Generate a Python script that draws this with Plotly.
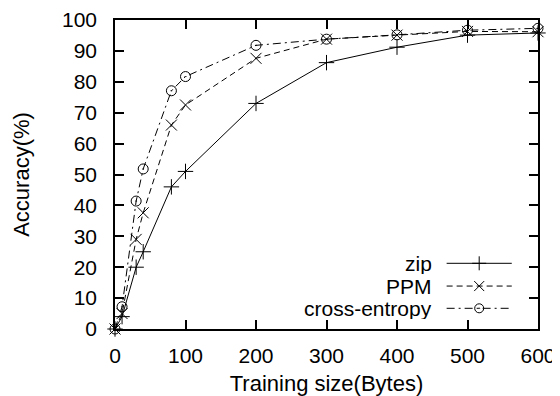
import plotly.graph_objects as go

training_size = [0, 10, 30, 40, 80, 100, 200, 300, 400, 500, 600]
zip_acc = [0, 4, 20, 25, 46, 51, 73, 86.2, 91.2, 95.1, 95.8]
ppm_acc = [0, 5, 29, 37.6, 66, 72.5, 87.6, 93.8, 95.1, 96.3, 96.2]
ce_acc = [0, 7.2, 41.4, 51.8, 77.1, 81.7, 91.8, 93.8, 95.2, 96.7, 97.3]

series_names = ["zip", "PPM", "cross-entropy"]
series_vals = [zip_acc, ppm_acc, ce_acc]
dashes = ["solid", "6px,4px", "8px,4px,2px,4px"]
symbols = ["cross-thin-open", "x-thin-open", "circle-open-dot"]
msizes = [11, 11, 10]

x_ticks = [0, 100, 200, 300, 400, 500, 600]
y_ticks = list(range(0, 101, 10))

FONT = "Liberation Sans, Arial, sans-serif"
FS_TICK = 21
FS_TITLE = 22
FS_LEG = 21

fig = go.Figure()
for name, vals, d, s, ms in zip(series_names, series_vals, dashes, symbols, msizes):
    fig.add_trace(go.Scatter(
        x=training_size, y=vals, name=name, mode="lines+markers",
        line=dict(color="black", width=1, dash=d),
        marker=dict(symbol=s, size=ms, color="black", line=dict(color="black", width=1)),
        cliponaxis=False, showlegend=False,
    ))

# custom gnuplot-style legend (text on left, sample on right)
leg_y = [0.2126, 0.139, 0.067]
for name, d, s, ms, ly in zip(series_names, dashes, symbols, msizes, leg_y):
    fig.add_trace(go.Scatter(
        x=[0.784, 0.938], y=[ly, ly], mode="lines", xaxis="x2", yaxis="y2",
        line=dict(color="black", width=1, dash=d), showlegend=False, hoverinfo="skip",
    ))
    fig.add_trace(go.Scatter(
        x=[0.861], y=[ly], mode="markers", xaxis="x2", yaxis="y2",
        marker=dict(symbol=s, size=ms - 1, color="black", line=dict(color="black", width=1)),
        showlegend=False, hoverinfo="skip",
    ))
    fig.add_annotation(x=0.7526, y=ly, xref="x2", yref="y2", text=name,
                       showarrow=False, xanchor="right", yanchor="middle",
                       height=21, valign="middle", borderpad=0,
                       font=dict(family=FONT, size=FS_LEG, color="black"))

axis_common = dict(showgrid=False, zeroline=False, showline=True, linecolor="black",
                   linewidth=1.5, ticks="inside", ticklen=9, tickwidth=1.5,
                   tickcolor="black", mirror="ticks", automargin=False,
                   tickfont=dict(family=FONT, size=FS_TICK, color="black"))

# page body has an 8px default margin, so the figure is 8px smaller
fig.update_layout(
    width=552, height=388,
    margin=dict(l=107, r=22, t=12, b=67, autoexpand=False),
    plot_bgcolor="white", paper_bgcolor="white",
    xaxis=dict(range=[0, 600], tickvals=x_ticks, ticklabelstandoff=7,
               title=dict(text="Training size(Bytes)", standoff=10,
                          font=dict(family=FONT, size=FS_TITLE, color="black")),
               **axis_common),
    yaxis=dict(range=[0, 100], tickvals=y_ticks, ticklabelstandoff=12,
               title=dict(text="Accuracy(%)", standoff=26,
                          font=dict(family=FONT, size=FS_TITLE, color="black")),
               **axis_common),
    xaxis2=dict(range=[0, 1], overlaying="x", visible=False),
    yaxis2=dict(range=[0, 1], overlaying="y", visible=False),
)

fig.write_html("out.html")
